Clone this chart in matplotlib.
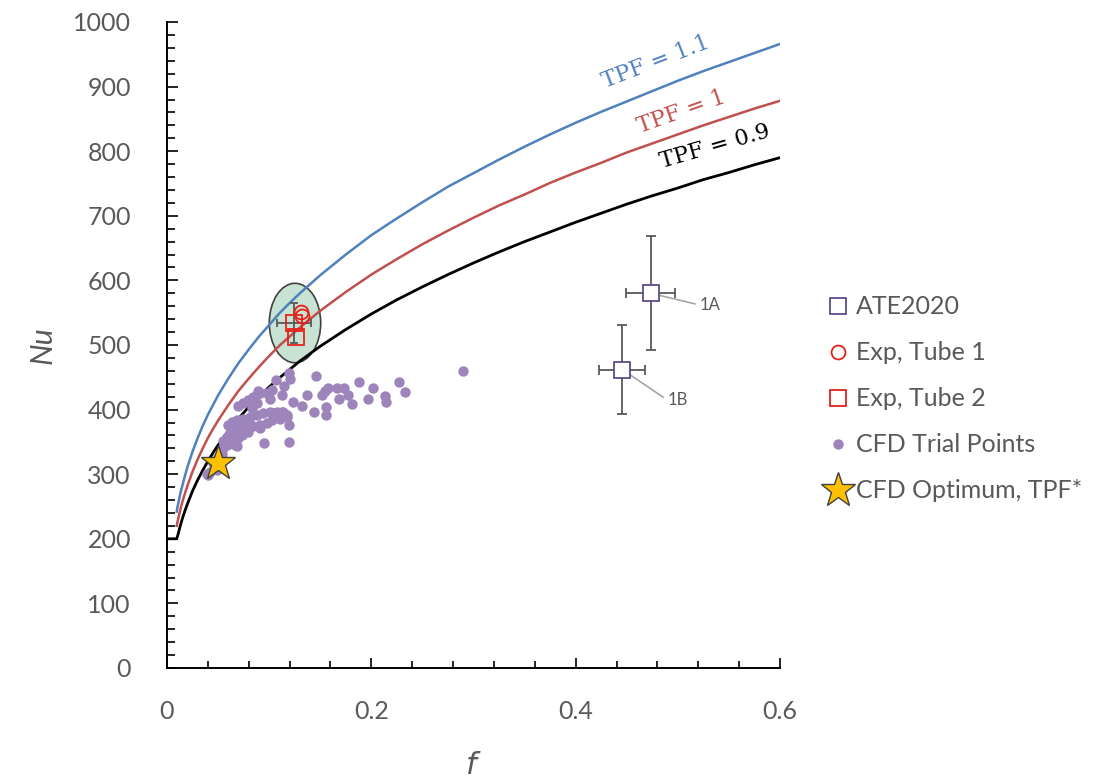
import matplotlib
matplotlib.use("Agg")
import matplotlib.pyplot as plt
from matplotlib.patches import Ellipse
from matplotlib.ticker import MultipleLocator, FuncFormatter

plt.rcParams["font.family"] = ["Lato", "DejaVu Sans"]

GRAY = "#595959"

# TPF curves
curve_f = [0.0095, 0.0105, 0.012, 0.0135, 0.015, 0.0175, 0.02, 0.025, 0.03, 0.035,
           0.04, 0.045, 0.05, 0.06, 0.07, 0.08, 0.09, 0.1, 0.11, 0.12,
           0.13, 0.15, 0.175, 0.2, 0.225, 0.25, 0.275, 0.3, 0.325, 0.35,
           0.375, 0.4, 0.425, 0.45, 0.475, 0.5, 0.525, 0.55, 0.575, 0.6]
nu_tpf09 = [200, 205, 214, 223, 231, 243, 254, 274, 291, 306,
            320, 333, 345, 367, 386, 404, 420, 435, 449, 462,
            475, 498, 524, 548, 570, 590, 609, 627, 644, 660,
            675, 690, 704, 718, 731, 743, 756, 767, 779, 790]
nu_tpf10 = [220, 228, 238, 248, 257, 270, 282, 304, 323, 340,
            356, 370, 383, 407, 429, 448, 466, 483, 499, 513,
            527, 553, 582, 609, 633, 656, 677, 697, 716, 733,
            751, 767, 782, 798, 812, 826, 840, 853, 866, 878]
nu_tpf11 = [242, 251, 262, 273, 282, 297, 311, 335, 356, 375,
            392, 407, 422, 448, 472, 493, 513, 531, 549, 565,
            580, 608, 640, 670, 696, 721, 745, 766, 787, 807,
            826, 844, 861, 877, 893, 909, 924, 938, 952, 966]

# ATE2020 points (1A, 1B)
ate_f = [0.4737, 0.4457]
ate_nu = [580, 462]
ate_ferr = [0.024, 0.0225]
ate_nuerr = [88, 69]
ate_names = ["1A", "1B"]
ate_text_f = [0.521, 0.4895]
ate_text_nu = [562, 415]

# experiments
tube1_f = [0.1309, 0.1321]
tube1_nu = [551, 545]
tube2_f = [0.1243, 0.1263]
tube2_nu = [534, 512]
tube2_ferr = [0.0163, 0.0]
tube2_nuerr = [31, 0]

# ellipse around experiments: center, width, height
ell_f, ell_nu, ell_w, ell_h = 0.1253, 534, 0.0503, 123

# CFD trial points
cfd_f = [0.290, 0.1455, 0.2274, 0.2329, 0.1879, 0.2013, 0.158, 0.166, 0.1735, 0.1546,
         0.1774, 0.1687, 0.1367, 0.1514, 0.2134, 0.214, 0.197, 0.1814, 0.1556, 0.1553,
         0.1437, 0.1318, 0.1236, 0.1194, 0.1194, 0.0949, 0.1145, 0.1123,
         0.1194, 0.1204, 0.1067, 0.0894, 0.0845, 0.0796, 0.0747, 0.0698,
         0.1008, 0.1122, 0.1025, 0.091, 0.0976, 0.0861, 0.0878, 0.0829,
         0.1139, 0.1073, 0.1008, 0.0943, 0.0878, 0.0812, 0.0747, 0.0682, 0.0633, 0.06,
         0.1171, 0.1106, 0.1025, 0.0976, 0.091, 0.0845, 0.1034, 0.117,
         0.091, 0.0812, 0.0796, 0.0731, 0.0682, 0.0649, 0.0617, 0.0584, 0.0551, 0.0682,
         0.0535, 0.0502, 0.0617, 0.0584, 0.0568, 0.0698, 0.0666, 0.0519, 0.047, 0.0421,
         0.0389, 0.0404, 0.0486, 0.0747, 0.0682, 0.0633, 0.0551, 0.0455]
cfd_nu = [460, 452, 442, 427, 443, 433, 434, 434, 434, 428,
          423, 417, 423, 423, 421, 411, 416, 409, 404, 392,
          397, 405, 411, 376, 350, 348, 437, 397,
          456, 448, 446, 428, 420, 415, 410, 405,
          417, 423, 430, 425, 425, 420, 410, 402,
          397, 397, 397, 394, 392, 389, 386, 384, 381, 376,
          389, 386, 384, 379, 376, 374, 394, 392,
          371, 376, 366, 361, 358, 353, 348, 345, 340, 343,
          332, 327, 363, 358, 350, 356, 345, 325, 314, 304,
          301, 299, 306, 371, 371, 374, 352, 318]

# optimum
opt_f = [0.05]
opt_nu = [317]

fig = plt.figure(figsize=(11.17, 7.77), dpi=100)
ax = fig.add_axes([0.1495, 0.1403, 0.5488, 0.8314])

ax.add_patch(Ellipse((ell_f, ell_nu), ell_w, ell_h, facecolor="#c8e3d3",
                     edgecolor="#404040", linewidth=1.2, zorder=1))

ax.plot([0.0] + curve_f, [200] + nu_tpf09, color="black", lw=2.0, zorder=2,
        solid_joinstyle="round")
ax.plot(curve_f, nu_tpf10, color="#c0504d", lw=1.8, zorder=2, solid_joinstyle="round")
ax.plot(curve_f, nu_tpf11, color="#4f81bd", lw=1.8, zorder=2, solid_joinstyle="round")

ax.text(0.478, 938, "TPF = 1.1", color="#4f81bd", fontsize=16, family="DejaVu Serif",
        rotation=21, ha="center", va="center")
ax.text(0.504, 861, "TPF = 1", color="#c0504d", fontsize=16, family="DejaVu Serif",
        rotation=19.5, ha="center", va="center")
ax.text(0.536, 807, "TPF = 0.9", color="black", fontsize=16, family="DejaVu Serif",
        rotation=16, ha="center", va="center")

ax.plot(cfd_f, cfd_nu, "o", color="#9d85bb", ms=7.5, mew=0, ls="none",
        label="CFD Trial Points", zorder=3)

ax.errorbar(ate_f, ate_nu, xerr=ate_ferr, yerr=ate_nuerr, fmt="none", ecolor=GRAY,
            elinewidth=1.3, capsize=3.5, capthick=1.3, zorder=4)
ax.plot(ate_f, ate_nu, "s", ms=12, mfc="white", mec="#5f4b8b", mew=1.3, ls="none",
        label="ATE2020", zorder=5)
for name, x, y, tx, ty in zip(ate_names, ate_f, ate_nu, ate_text_f, ate_text_nu):
    ax.annotate(name, xy=(x, y), xytext=(tx, ty), fontsize=12, color=GRAY,
                ha="left", va="center",
                arrowprops=dict(arrowstyle="-", color="#a6a6a6", lw=1.2,
                                shrinkA=1, shrinkB=0, relpos=(0, 0.5)))

ax.errorbar(tube2_f[:1], tube2_nu[:1], xerr=tube2_ferr[:1], yerr=tube2_nuerr[:1],
            fmt="none", ecolor=GRAY, elinewidth=1.3, capsize=3, capthick=1.3, zorder=4)
ax.plot(tube1_f, tube1_nu, "o", ms=10, mfc="none", mec="#e8201c", mew=1.3, ls="none",
        label="Exp, Tube 1", zorder=5)
ax.plot(tube2_f, tube2_nu, "s", ms=12, mfc="none", mec="#e8201c", mew=1.3, ls="none",
        label="Exp, Tube 2", zorder=5)

ax.plot(opt_f, opt_nu, "*", ms=26, mfc="#ffc000", mec="#404040", mew=1.0, ls="none",
        label="CFD Optimum, TPF*", zorder=6)

ax.set_xlim(0, 0.6)
ax.set_ylim(0, 1000)
ax.xaxis.set_major_locator(MultipleLocator(0.2))
ax.xaxis.set_minor_locator(MultipleLocator(0.04))
ax.yaxis.set_major_locator(MultipleLocator(100))
ax.yaxis.set_minor_locator(MultipleLocator(20))
ax.xaxis.set_major_formatter(FuncFormatter(lambda v, p: "0" if abs(v) < 1e-9 else f"{v:g}"))

for s in ["top", "right"]:
    ax.spines[s].set_visible(False)
for s in ["left", "bottom"]:
    ax.spines[s].set_linewidth(1.4)
    ax.spines[s].set_color("black")

ax.tick_params(axis="both", which="both", direction="in", color="black", width=1.2,
               labelcolor=GRAY, labelsize=18)
ax.tick_params(axis="y", which="major", length=8, pad=26)
ax.tick_params(axis="y", which="minor", length=6)
ax.tick_params(axis="x", which="major", length=7, pad=23)
ax.tick_params(axis="x", which="minor", length=5)

ax.set_xlabel("$f$", fontsize=22, color=GRAY, labelpad=20)
ax.set_ylabel("Nu", fontsize=22, color=GRAY, style="italic", labelpad=12)

h, l = ax.get_legend_handles_labels()
order = ["ATE2020", "Exp, Tube 1", "Exp, Tube 2", "CFD Trial Points", "CFD Optimum, TPF*"]
hd = dict(zip(l, h))
ax.legend([hd[k] for k in order], order, loc="center left",
          bbox_to_anchor=(1.075, 0.4165), frameon=False, fontsize=18, labelcolor=GRAY,
          handlelength=1.0, handletextpad=0.2, labelspacing=0.92, borderpad=0,
          borderaxespad=0, markerscale=1.0)

fig.savefig("out.png", dpi=100)
